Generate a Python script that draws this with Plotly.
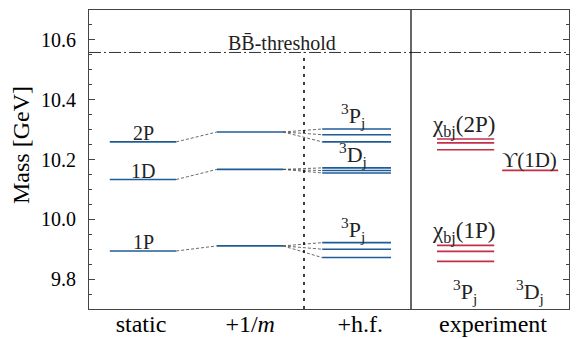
import plotly.graph_objects as go

# masses in GeV
threshold = 10.558
static_names = ["2P", "1D", "1P"]
static_levels = [10.259, 10.133, 9.894]
inv_m_levels = [10.292, 10.167, 9.911]
hf_2P = [10.302, 10.283, 10.259]
hf_1D = [10.172, 10.163, 10.155]
hf_1P = [9.922, 9.900, 9.872]
exp_chi_2P = [10.2687, 10.2555, 10.2325]
exp_chi_1P = [9.9128, 9.8928, 9.8594]
exp_ups_1D = [10.1637]

col_names = ["static", "+1/<i>m</i>", "+h.f.", "experiment"]
col_pos = [1.30, 4.03, 6.78, 10.1]

# horizontal extent of each column of levels
static_x = (0.52, 2.18)
inv_m_x = (3.2, 4.85)
hf_x = (5.83, 7.55)
exp_P_x = (8.7, 10.13)
exp_D_x = (10.33, 11.73)
dotted_x = 5.375
solid_x = 8.05

BLUE = "#1f5b96"
RED = "#c42e48"
FONT = "Liberation Serif"


def segments(levels, x0, x1):
    xs, ys = [], []
    for v in levels:
        xs += [x0, x1, None]
        ys += [v, v, None]
    return xs, ys


fig = go.Figure()

# grey dashed connectors
cx, cy = [], []
for a, b in zip(static_levels, inv_m_levels):
    cx += [static_x[1], inv_m_x[0], None]
    cy += [a, b, None]
for a, grp in zip(inv_m_levels, [hf_2P, hf_1D, hf_1P]):
    for b in grp:
        cx += [inv_m_x[1], hf_x[0], None]
        cy += [a, b, None]
fig.add_trace(go.Scatter(x=cx, y=cy, mode="lines", line=dict(color="#444444", width=0.8, dash="3px,2px"),
                         hoverinfo="skip"))

for levels, xr, col in [(static_levels, static_x, BLUE), (inv_m_levels, inv_m_x, BLUE),
                        (hf_2P + hf_1D + hf_1P, hf_x, BLUE),
                        (exp_chi_2P + exp_chi_1P, exp_P_x, RED), (exp_ups_1D, exp_D_x, RED)]:
    xs, ys = segments(levels, *xr)
    fig.add_trace(go.Scatter(x=xs, y=ys, mode="lines", line=dict(color=col, width=1.6), hoverinfo="skip"))

# threshold and separators
fig.add_trace(go.Scatter(x=[0, 12], y=[threshold, threshold], mode="lines",
                         line=dict(color="#333333", width=1, dash="12px,3px,2px,3px"), hoverinfo="skip"))
fig.add_trace(go.Scatter(x=[dotted_x, dotted_x], y=[9.7, threshold], mode="lines",
                         line=dict(color="black", width=1.5, dash="3px,5px"), hoverinfo="skip"))
fig.add_trace(go.Scatter(x=[solid_x, solid_x], y=[9.7, 10.7], mode="lines",
                         line=dict(color="black", width=1.2), hoverinfo="skip"))

labels = [
    (4.825, threshold, "BB\u0304-threshold", 20),
    (col_pos[0] + 0.05, static_levels[0], "2P", 20),
    (col_pos[0] + 0.05, static_levels[1], "1D", 20),
    (col_pos[0] + 0.05, static_levels[2], "1P", 20),
    (6.6, hf_2P[0], "<sup>3</sup>P<sub>j</sub>", 22),
    (6.6, hf_1D[0], "<sup>3</sup>D<sub>j</sub>", 22),
    (6.6, hf_1P[0], "<sup>3</sup>P<sub>j</sub>", 22),
    (9.35, exp_chi_2P[0], "χ<sub>bj</sub>(2P)", 23),
    (11.0, exp_ups_1D[0], "ϒ(1D)", 21),
    (9.35, exp_chi_1P[0], "χ<sub>bj</sub>(1P)", 23),
    (9.4, 9.715, "<sup>3</sup>P<sub>j</sub>", 22),
    (11.03, 9.715, "<sup>3</sup>D<sub>j</sub>", 22),
]
for x, y, t, s in labels:
    fig.add_annotation(x=x, y=y, text=t, showarrow=False, xanchor="center", yanchor="bottom",
                       yshift=-4, font=dict(family=FONT, size=s, color="#222222"))

# y-axis title, sits a little above the middle of the axis
fig.add_annotation(x=-0.142, y=0.548, xref="paper", yref="paper", text="Mass [GeV]", textangle=-90,
                   showarrow=False, xanchor="center", yanchor="middle", borderpad=0,
                   font=dict(family=FONT, size=24))

# the page adds an 8px body margin, so the figure is 8px smaller than the window
fig.update_layout(
    width=573, height=331, showlegend=False, plot_bgcolor="white", paper_bgcolor="white",
    margin=dict(l=81, r=12, t=2, b=30),
    font=dict(family=FONT, size=20, color="black"),
    xaxis=dict(range=[0, 12], tickvals=col_pos, ticktext=col_names, ticks="", showgrid=False,
               tickfont=dict(size=24), automargin=False, ticklabelstandoff=-7,
               zeroline=False, showline=True, linecolor="#444444", linewidth=1, mirror=True),
    yaxis=dict(range=[9.7, 10.7], tickvals=[9.8, 10.0, 10.2, 10.4, 10.6],
               ticktext=["9.8", "10.0", "10.2", "10.4", "10.6"], ticks="inside", ticklen=6,
               tickcolor="#444444", minor=dict(dtick=0.05, ticks="inside", ticklen=3, tickcolor="#444444"),
               showgrid=False, zeroline=False, showline=True, linecolor="#444444", linewidth=1, mirror="allticks",
               automargin=False, tickfont=dict(size=20), ticklabelstandoff=8),
)

fig.write_html("out.html")
